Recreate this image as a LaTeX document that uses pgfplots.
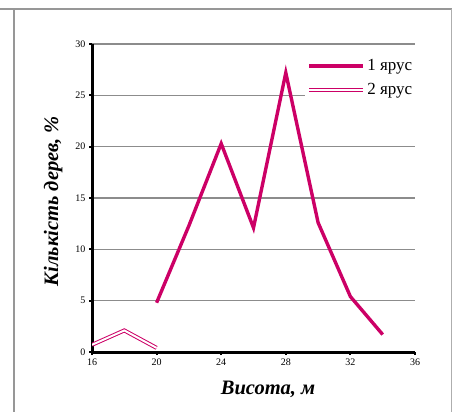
\documentclass[border=0pt]{standalone}
\usepackage{pgfplots}
\pgfplotsset{compat=1.18}
\usepackage{fontspec}
\setmainfont{Liberation Serif}
\definecolor{pinkline}{RGB}{204,0,102}
\definecolor{gridgray}{RGB}{140,140,140}
\begin{document}
\begin{tikzpicture}[x=1pt,y=1pt]
\path[use as bounding box] (0,0) rectangle (452,412);
\draw[gridgray!90, line width=1.5pt] (0,403) -- (452,403);
\draw[gridgray!90, line width=1.5pt] (14,403) -- (14,0);
\draw[gridgray!70, line width=1pt] (451,403) -- (451,0);
\begin{axis}[
  at={(92pt,60pt)}, anchor=south west,
  scale only axis, width=323pt, height=308pt,
  xmin=16, xmax=36, ymin=0, ymax=30,
  xtick={16,20,...,36}, ytick={0,5,...,30},
  axis x line*=bottom, axis y line*=left,
  axis line style={line width=3pt, black, -},
  ymajorgrids, grid style={gridgray, line width=1.6pt},
  tick align=outside, major tick length=3pt,
  tick style={black, line width=2pt},
  tick label style={font=\fontsize{10}{12}\selectfont},
  /pgf/number format/assume math mode=true,
  xlabel={\textbf{\textit{Висота, м}}},
  ylabel={\textbf{\textit{Кількість дерев, \%}}},
  label style={font=\fontsize{20.5}{24}\selectfont},
  xlabel style={at={(axis description cs:0.545,-0.12)}, anchor=center},
  ylabel style={at={(axis description cs:-0.12,0.49)}, anchor=center},
  legend style={at={(axis description cs:0.66,0.963)}, anchor=north west, draw=none, fill=white,
    font=\fontsize{17}{20}\selectfont, row sep=7pt, inner sep=2pt},
  legend cell align=left,
  legend image code/.code={\draw[#1] (0pt,0pt) -- (54pt,0pt);},
]
\addplot[pinkline, line width=3.4pt, line join=miter] coordinates {
(20,4.8) (22,12.3) (24,20.3) (26,12.1) (28,27.2) (30,12.6) (32,5.4) (34,1.7)};
\addlegendentry{1 ярус}
\addplot[pinkline, line width=1pt, double=white, double distance=2pt, line join=miter] coordinates {
(16,0.7) (18,2.1) (20,0.4)};
\addlegendentry{2 ярус}
\end{axis}
\end{tikzpicture}
\end{document}
